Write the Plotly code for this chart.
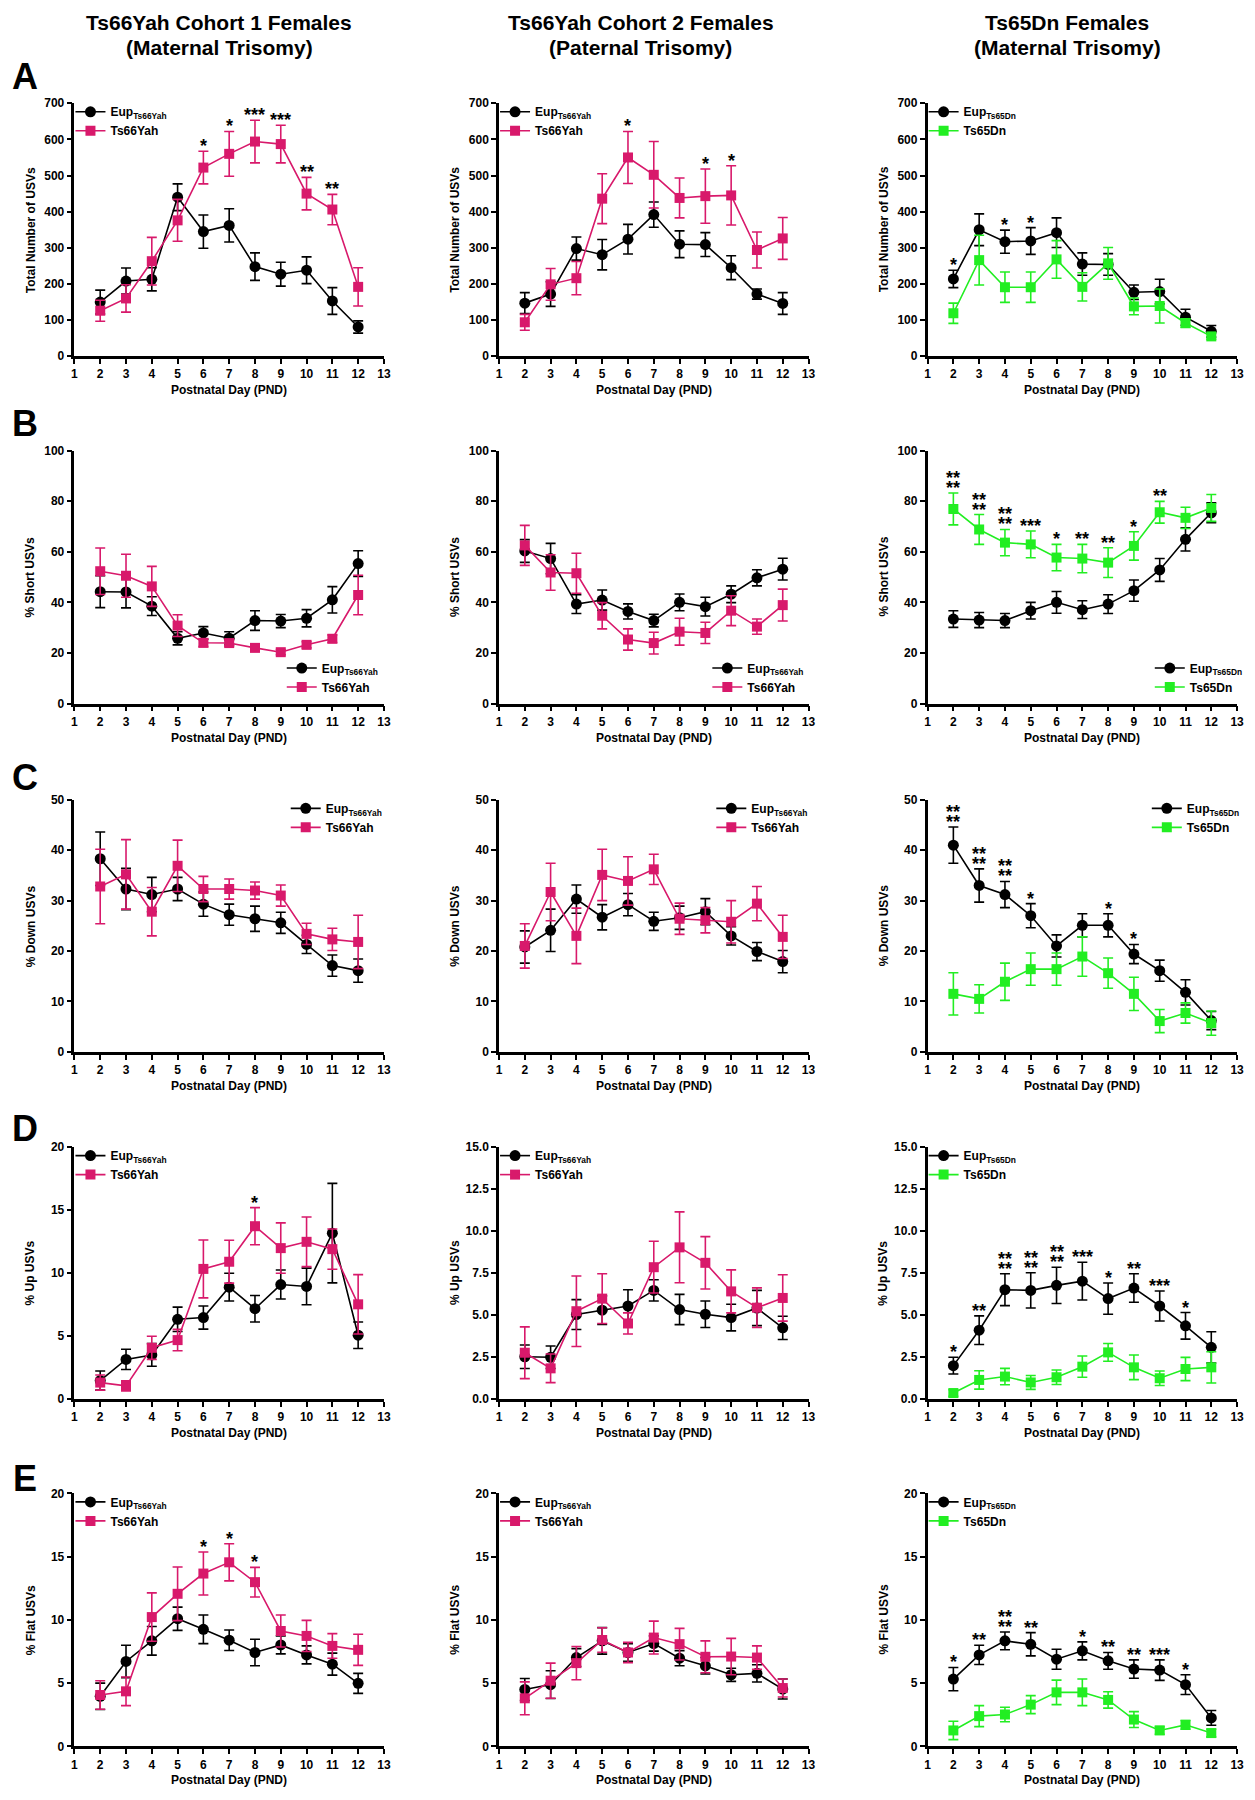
import plotly.graph_objects as go

DAYS = [2, 3, 4, 5, 6, 7, 8, 9, 10, 11, 12]
X_TICKS = list(range(1, 14))

COL_TITLES_1 = ["Ts66Yah Cohort 1 Females", "Ts66Yah Cohort 2 Females", "Ts65Dn Females"]
COL_TITLES_2 = ["(Maternal Trisomy)", "(Paternal Trisomy)", "(Maternal Trisomy)"]
ROW_LETTERS = ["A", "B", "C", "D", "E"]
Y_TITLES = ["Total Number of USVs", "% Short USVs", "% Down USVs", "% Up USVs", "% Flat USVs"]
X_TITLE = "Postnatal Day (PND)"
EUP_NAMES = ["Eup<sub>Ts66Yah</sub>", "Eup<sub>Ts66Yah</sub>", "Eup<sub>Ts65Dn</sub>"]
TS_NAMES = ["Ts66Yah", "Ts66Yah", "Ts65Dn"]

# ---------------- Row A : Total number of USVs
A1_eup = [150, 208, 213, 440, 345, 362, 248, 227, 238, 153, 81]
A1_eup_se = [33, 36, 32, 37, 46, 46, 38, 33, 37, 37, 17]
A1_ts = [126, 160, 263, 376, 522, 560, 594, 587, 450, 406, 192]
A1_ts_se = [29, 38, 66, 58, 45, 62, 59, 52, 45, 42, 53]
A1_sig = ["", "", "", "", "*", "*", "***", "***", "**", "**", ""]

A2_eup = [147, 172, 298, 281, 324, 392, 310, 309, 245, 172, 146]
A2_eup_se = [29, 34, 32, 42, 41, 35, 37, 33, 33, 14, 30]
A2_ts = [94, 199, 216, 436, 550, 502, 438, 443, 445, 294, 326]
A2_ts_se = [22, 44, 46, 69, 72, 92, 55, 75, 82, 50, 58]
A2_sig = ["", "", "", "", "*", "", "", "*", "*", "", ""]

A3_eup = [214, 350, 317, 319, 342, 255, 254, 177, 179, 108, 69]
A3_eup_se = [24, 44, 32, 37, 41, 31, 30, 20, 34, 22, 16]
A3_ts = [119, 266, 191, 191, 268, 192, 257, 138, 139, 92, 55]
A3_ts_se = [28, 69, 42, 42, 52, 39, 44, 23, 47, 12, 8]
A3_sig = ["*", "", "*", "*", "", "", "", "", "", "", ""]

# ---------------- Row B : % Short USVs
B1_eup = [44.2, 44.1, 38.5, 25.8, 27.9, 25.8, 32.8, 32.6, 33.7, 41.0, 55.3]
B1_eup_se = [6.3, 6.3, 3.7, 2.6, 2.5, 2.6, 3.9, 2.6, 3.4, 5.2, 5.1]
B1_ts = [52.3, 50.5, 46.3, 30.8, 24.0, 23.9, 22.0, 20.3, 23.2, 25.6, 42.9]
B1_ts_se = [9.2, 8.5, 7.9, 4.3, 1.5, 1.2, 1.0, 1.0, 1.2, 1.5, 7.8]
B1_sig = ["", "", "", "", "", "", "", "", "", "", ""]

B2_eup = [60.3, 57.3, 39.3, 40.9, 36.4, 32.8, 40.0, 38.3, 43.2, 49.7, 53.1]
B2_eup_se = [4.5, 6.0, 3.7, 4.0, 3.0, 2.5, 3.3, 3.7, 3.3, 3.2, 4.3]
B2_ts = [62.5, 51.8, 51.5, 34.7, 25.3, 23.9, 28.4, 27.9, 36.7, 30.4, 38.9]
B2_ts_se = [7.9, 7.0, 7.9, 5.2, 4.2, 4.3, 5.3, 4.2, 5.9, 3.0, 6.3]
B2_sig = ["", "", "", "", "", "", "", "", "", "", ""]

B3_eup = [33.4, 33.0, 32.8, 36.7, 40.0, 37.1, 39.3, 44.6, 52.8, 64.9, 75.4]
B3_eup_se = [3.3, 3.0, 2.8, 3.3, 4.3, 3.5, 3.7, 4.2, 4.5, 4.6, 3.9]
B3_ts = [76.9, 68.8, 63.6, 62.9, 57.7, 57.3, 55.7, 62.3, 75.6, 73.4, 77.3]
B3_ts_se = [6.3, 5.9, 5.2, 5.3, 5.2, 5.6, 5.9, 5.6, 4.3, 4.2, 5.3]
B3_sig = ["**|**", "**|**", "**|**", "***", "*", "**", "**", "*", "**", "", ""]

# ---------------- Row C : % Down USVs
C1_eup = [38.3, 32.3, 31.2, 32.3, 29.3, 27.2, 26.4, 25.6, 21.3, 17.1, 16.1]
C1_eup_se = [5.3, 4.1, 3.4, 2.3, 2.4, 2.1, 2.5, 2.1, 1.8, 2.1, 2.3]
C1_ts = [32.8, 35.2, 27.8, 36.9, 32.3, 32.3, 32.0, 31.0, 23.4, 22.3, 21.8]
C1_ts_se = [7.4, 6.9, 4.8, 5.1, 2.5, 2.0, 1.7, 2.1, 2.1, 2.2, 5.3]
C1_sig = ["", "", "", "", "", "", "", "", "", "", ""]

C2_eup = [20.8, 24.1, 30.3, 26.7, 29.2, 25.9, 26.6, 27.8, 23.0, 19.9, 17.9]
C2_eup_se = [3.2, 4.2, 2.8, 2.5, 2.2, 1.8, 2.3, 2.6, 1.8, 1.8, 2.2]
C2_ts = [21.0, 31.7, 23.0, 35.1, 33.9, 36.2, 26.4, 26.1, 25.8, 29.4, 22.8]
C2_ts_se = [4.4, 5.7, 5.5, 5.1, 4.8, 3.0, 3.1, 2.5, 4.2, 3.4, 4.3]
C2_sig = ["", "", "", "", "", "", "", "", "", "", ""]

C3_eup = [41.0, 33.0, 31.2, 27.0, 21.0, 25.1, 25.1, 19.4, 16.1, 11.8, 6.2]
C3_eup_se = [3.6, 3.3, 2.6, 2.4, 2.2, 2.3, 2.3, 1.9, 2.1, 2.5, 1.8]
C3_ts = [11.5, 10.5, 13.9, 16.4, 16.4, 18.9, 15.6, 11.5, 6.1, 7.7, 5.7]
C3_ts_se = [4.2, 2.8, 3.7, 3.2, 3.2, 3.9, 3.0, 3.3, 2.3, 2.0, 2.4]
C3_sig = ["**|**", "**|**", "**|**", "*", "", "", "*", "*", "", "", ""]

# ---------------- Row D : % Up USVs
D1_eup = [1.47, 3.15, 3.5, 6.33, 6.47, 8.88, 7.17, 9.09, 8.94, 13.17, 5.07]
D1_eup_se = [0.76, 0.8, 0.9, 0.97, 0.92, 1.1, 1.05, 1.15, 1.45, 3.95, 1.05]
D1_ts = [1.31, 1.05, 4.07, 4.68, 10.33, 10.9, 13.72, 11.98, 12.48, 11.9, 7.52]
D1_ts_se = [0.6, 0.4, 0.92, 0.85, 2.3, 1.7, 1.47, 2.0, 1.97, 1.6, 2.36]
D1_sig = ["", "", "", "", "", "", "*", "", "", "", ""]

D2_eup = [2.52, 2.49, 5.03, 5.29, 5.54, 6.47, 5.33, 5.05, 4.85, 5.42, 4.24]
D2_eup_se = [0.7, 0.67, 0.89, 0.85, 0.97, 0.63, 0.9, 0.79, 0.79, 1.05, 0.69]
D2_ts = [2.76, 1.83, 5.23, 5.98, 4.5, 7.85, 9.03, 8.11, 6.41, 5.44, 6.02]
D2_ts_se = [1.54, 0.85, 2.1, 1.48, 0.63, 1.54, 2.11, 1.56, 1.28, 1.18, 1.38]
D2_sig = ["", "", "", "", "", "", "", "", "", "", ""]

D3_eup = [1.99, 4.1, 6.51, 6.47, 6.77, 7.02, 5.98, 6.61, 5.54, 4.36, 3.08]
D3_eup_se = [0.5, 0.85, 0.95, 1.05, 1.08, 1.12, 0.93, 0.85, 0.89, 0.79, 0.93]
D3_ts = [0.36, 1.14, 1.34, 0.99, 1.3, 1.93, 2.78, 1.89, 1.24, 1.79, 1.89]
D3_ts_se = [0.2, 0.55, 0.49, 0.41, 0.43, 0.63, 0.53, 0.73, 0.43, 0.69, 0.93]
D3_sig = ["*", "**", "**|**", "**|**", "**|**", "***", "*", "**", "***", "*", ""]

# ---------------- Row E : % Flat USVs
E1_eup = [3.96, 6.71, 8.34, 10.09, 9.25, 8.39, 7.42, 8.02, 7.23, 6.5, 4.98]
E1_eup_se = [1.04, 1.28, 1.13, 0.92, 1.13, 0.81, 1.05, 0.71, 0.71, 0.87, 0.79]
E1_ts = [4.06, 4.35, 10.22, 12.06, 13.66, 14.55, 12.98, 9.12, 8.73, 7.94, 7.63]
E1_ts_se = [1.13, 1.13, 1.91, 2.12, 1.7, 1.47, 1.17, 1.26, 1.23, 0.97, 1.23]
E1_sig = ["", "", "", "", "*", "*", "*", "", "", "", ""]

E2_eup = [4.5, 4.88, 7.02, 8.34, 7.42, 8.13, 6.97, 6.37, 5.66, 5.77, 4.53]
E2_eup_se = [0.87, 1.1, 0.71, 1.05, 0.7, 0.6, 0.6, 0.65, 0.52, 0.68, 0.79]
E2_ts = [3.8, 5.19, 6.58, 8.41, 7.42, 8.6, 8.08, 7.08, 7.1, 7.02, 4.61]
E2_ts_se = [1.3, 1.39, 1.31, 0.97, 0.8, 1.3, 1.25, 1.26, 1.44, 0.92, 0.71]
E2_sig = ["", "", "", "", "", "", "", "", "", "", ""]

E3_eup = [5.32, 7.23, 8.34, 8.07, 6.89, 7.55, 6.76, 6.11, 6.03, 4.88, 2.25]
E3_eup_se = [0.92, 0.76, 0.7, 0.92, 0.79, 0.71, 0.66, 0.73, 0.81, 0.78, 0.58]
E3_ts = [1.26, 2.39, 2.52, 3.3, 4.27, 4.27, 3.67, 2.12, 1.26, 1.7, 1.05]
E3_ts_se = [0.73, 0.83, 0.57, 0.71, 0.97, 1.05, 0.65, 0.63, 0.3, 0.35, 0.3]
E3_sig = ["*", "**", "**|**", "**", "", "*", "**", "**", "***", "*", ""]

PANELS = [
    [(A1_eup, A1_eup_se, A1_ts, A1_ts_se, A1_sig), (A2_eup, A2_eup_se, A2_ts, A2_ts_se, A2_sig), (A3_eup, A3_eup_se, A3_ts, A3_ts_se, A3_sig)],
    [(B1_eup, B1_eup_se, B1_ts, B1_ts_se, B1_sig), (B2_eup, B2_eup_se, B2_ts, B2_ts_se, B2_sig), (B3_eup, B3_eup_se, B3_ts, B3_ts_se, B3_sig)],
    [(C1_eup, C1_eup_se, C1_ts, C1_ts_se, C1_sig), (C2_eup, C2_eup_se, C2_ts, C2_ts_se, C2_sig), (C3_eup, C3_eup_se, C3_ts, C3_ts_se, C3_sig)],
    [(D1_eup, D1_eup_se, D1_ts, D1_ts_se, D1_sig), (D2_eup, D2_eup_se, D2_ts, D2_ts_se, D2_sig), (D3_eup, D3_eup_se, D3_ts, D3_ts_se, D3_sig)],
    [(E1_eup, E1_eup_se, E1_ts, E1_ts_se, E1_sig), (E2_eup, E2_eup_se, E2_ts, E2_ts_se, E2_sig), (E3_eup, E3_eup_se, E3_ts, E3_ts_se, E3_sig)],
]

# y-axis settings per row / column: (max, step, format)
Y_AXES = [
    [(700, 100, ""), (700, 100, ""), (700, 100, "")],
    [(100, 20, ""), (100, 20, ""), (100, 20, "")],
    [(50, 10, ""), (50, 10, ""), (50, 10, "")],
    [(20, 5, ""), (15, 2.5, ".1f"), (15, 2.5, ".1f")],
    [(20, 5, ""), (20, 5, ""), (20, 5, "")],
]

# ---------------- styling / layout
W, H = 1255, 1800
PINK = "#D8196B"
GREEN = "#22EE22"
BLACK = "#000000"
FONT = "Liberation Sans, Arial, sans-serif"
NARROW = "Liberation Sans Narrow, Arial Narrow, Liberation Sans, Arial, sans-serif"

COL_PX = [(72, 384), (500, 812), (932, 1244)]
ROW_PX = [(97, 352), (447, 702), (799, 1053), (1149, 1403), (1498, 1753)]
TITLE_X_PX = [218, 643, 1073]
TITLE_Y_PX = [16, 41]
LETTER_Y_PX = [70, 420, 777, 1130, 1483]


def fx(p):
    return p / W


def fy(p):
    return 1 - p / H


fig = go.Figure()
layout = dict(
    width=W, height=H, margin=dict(l=0, r=0, t=0, b=0),
    paper_bgcolor="white", plot_bgcolor="white",
    font=dict(family=FONT, color=BLACK, size=12),
)
annotations = []

for r in range(5):
    for c in range(3):
        idx = r * 3 + c + 1
        sfx = "" if idx == 1 else str(idx)
        xa, ya, lg = "x" + sfx, "y" + sfx, "legend" + sfx
        eup, eup_se, ts, ts_se, sig = PANELS[r][c]
        ts_color = PINK if c < 2 else GREEN
        ymax, ystep, yfmt = Y_AXES[r][c]

        fig.add_trace(go.Scatter(
            x=DAYS, y=eup, mode="lines+markers", name=EUP_NAMES[c],
            line=dict(color=BLACK, width=1.6),
            marker=dict(symbol="circle", size=11, color=BLACK),
            error_y=dict(type="data", array=eup_se, color=BLACK, thickness=1.6, width=5),
            xaxis=xa, yaxis=ya, legend=lg, cliponaxis=False))
        fig.add_trace(go.Scatter(
            x=DAYS, y=ts, mode="lines+markers", name=TS_NAMES[c],
            line=dict(color=ts_color, width=1.6),
            marker=dict(symbol="square", size=10, color=ts_color),
            error_y=dict(type="data", array=ts_se, color=ts_color, thickness=1.6, width=5),
            xaxis=xa, yaxis=ya, legend=lg, cliponaxis=False))

        x0, x1 = COL_PX[c]
        y0, y1 = ROW_PX[r]
        layout["xaxis" + sfx] = dict(
            domain=[fx(x0), fx(x1)], anchor=ya, range=[1, 13],
            tickmode="array", tickvals=X_TICKS, ticks="outside", ticklen=5,
            tickwidth=2, tickcolor=BLACK, showline=True, linewidth=2.5,
            linecolor=BLACK, showgrid=False, zeroline=False,
            tickfont=dict(family=FONT, size=12, color=BLACK, weight="bold"))
        layout["yaxis" + sfx] = dict(
            domain=[fy(y1), fy(y0)], anchor=xa, range=[0, ymax],
            tick0=0, dtick=ystep, tickformat=yfmt, ticks="outside", ticklen=5,
            tickwidth=2, tickcolor=BLACK, showline=True, linewidth=2.5,
            linecolor=BLACK, showgrid=False, zeroline=False,
            tickfont=dict(family=FONT, size=12, color=BLACK, weight="bold"))

        # legend placement
        if r == 1:
            lx = x0 + [209, 210, 224][c]
            ly, yanc = y1 - 2, "bottom"
        elif r == 2:
            lx = x0 + [213, 214, 221][c]
            ly, yanc = y0 - 6, "top"
        else:
            lx = x0 - 4
            ly, yanc = y0 - 6, "top"
        layout[lg] = dict(
            x=fx(lx), y=fy(ly), xanchor="left", yanchor=yanc,
            bgcolor="rgba(0,0,0,0)", borderwidth=0, tracegroupgap=0,
            itemwidth=30, traceorder="normal",
            font=dict(family=FONT, size=12, color=BLACK, weight="bold"))

        # axis titles
        annotations.append(dict(
            text=X_TITLE, xref="paper", yref="paper", x=fx((x0 + x1) / 2), y=fy(y1),
            xanchor="center", yanchor="middle", yshift=-34, showarrow=False,
            font=dict(family=FONT, size=12, color=BLACK, weight="bold")))
        annotations.append(dict(
            text=Y_TITLES[r], xref="paper", yref="paper", x=fx(x0), y=fy((y0 + y1) / 2),
            xanchor="center", yanchor="middle", xshift=-44, textangle=-90, showarrow=False,
            font=dict(family=FONT, size=12, color=BLACK, weight="bold")))

        # significance stars
        for i, s in enumerate(sig):
            if not s:
                continue
            top = max(eup[i] + eup_se[i], ts[i] + ts_se[i])
            lines = s.split("|")
            for j, line in enumerate(reversed(lines)):
                annotations.append(dict(
                    text=line, xref=xa, yref=ya, x=DAYS[i], y=top,
                    xanchor="center", yanchor="bottom", yshift=-7 + 10 * j,
                    showarrow=False,
                    font=dict(family=FONT, size=18, color=BLACK, weight="bold")))

# column titles
for c in range(3):
    for k, txt in enumerate([COL_TITLES_1[c], COL_TITLES_2[c]]):
        annotations.append(dict(
            text=txt, xref="paper", yref="paper", x=fx(TITLE_X_PX[c]), y=fy(TITLE_Y_PX[k]),
            xanchor="center", yanchor="middle", showarrow=False,
            font=dict(family=NARROW, size=21, color=BLACK, weight="bold")))

# row letters
for r in range(5):
    annotations.append(dict(
        text=ROW_LETTERS[r], xref="paper", yref="paper", x=fx(22), y=fy(LETTER_Y_PX[r]),
        xanchor="center", yanchor="middle", showarrow=False,
        font=dict(family=NARROW, size=36, color=BLACK, weight="bold")))

layout["annotations"] = annotations
layout["showlegend"] = True
fig.update_layout(**layout)

fig.write_html("out.html", config={"displayModeBar": False},
               post_script="document.body.style.margin='0';")
